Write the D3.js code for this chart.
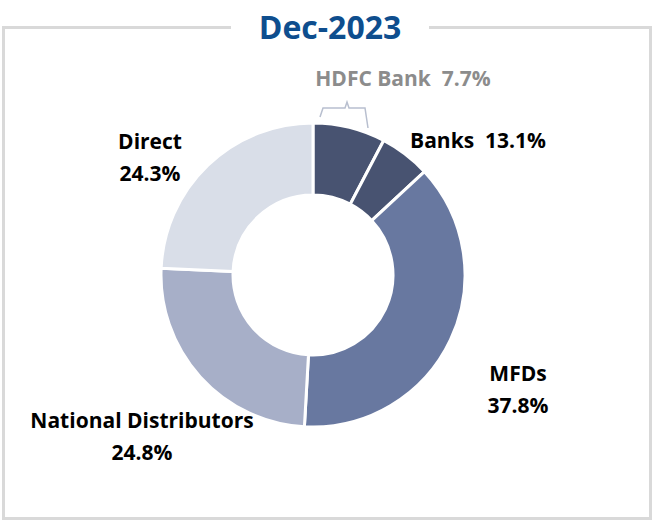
<!DOCTYPE html>
<html>
<head>
<meta charset="utf-8">
<script src="https://cdn.jsdelivr.net/npm/d3@7"></script>
<style>
  body { margin: 0; background: #fff; }
  text { font-family: "Open Sans", Lato, sans-serif; font-weight: 700; }
</style>
</head>
<body>
<div id="container"></div>
<script>
const width = 654;
const height = 521;

// data
const categories = ["HDFC Bank", "Other Banks", "MFDs", "National Distributors", "Direct"];
const shares = [7.7, 5.4, 37.8, 24.8, 24.3];
const colors = ["#485371", "#485371", "#6878a0", "#a7afc8", "#d9dee8"];
const title = "Dec-2023";

// label layout (anchor middle)
const labels = [
  { lines: ["HDFC Bank  7.7%"], x: 403, y: 86, fill: "#8c8c8c" },
  { lines: ["Banks  13.1%"], x: 478, y: 148, fill: "#000" },
  { lines: ["MFDs", "37.8%"], x: 518, y: 381, fill: "#000" },
  { lines: ["National Distributors", "24.8%"], x: 142, y: 428, fill: "#000" },
  { lines: ["Direct", "24.3%"], x: 150, y: 149, fill: "#000" }
];

const cx = 313, cy = 275;
const outerR = 152, innerR = 80;

const svg = d3
  .select("#container")
  .append("svg")
  .attr("width", width)
  .attr("height", height);

// frame with a gap for the title
svg.append("path")
  .attr("d", `M231,27.5 H3.5 V518.5 H650.5 V27.5 H429`)
  .attr("fill", "none")
  .attr("stroke", "#d9d9d9")
  .attr("stroke-width", 3);

svg.append("text")
  .attr("x", 330)
  .attr("y", 39)
  .attr("text-anchor", "middle")
  .attr("font-size", 32)
  .attr("fill", "#0e4e8e")
  .text(title);

const pie = d3.pie().sort(null).value(d => d);
const arc = d3.arc().innerRadius(innerR).outerRadius(outerR);

const g = svg.append("g").attr("transform", `translate(${cx},${cy})`);

g.selectAll("path")
  .data(pie(shares))
  .enter()
  .append("path")
  .attr("d", arc)
  .attr("fill", (d, i) => colors[i])
  .attr("stroke", "#fff")
  .attr("stroke-width", 3)
  .attr("stroke-linejoin", "round");

// bracket over the HDFC slice
svg.append("path")
  .attr("d", "M320,117 L323,108 H345 L347,102 L349,108 H365 L368,128")
  .attr("fill", "none")
  .attr("stroke", "#b8bfcf")
  .attr("stroke-width", 1.5);

const lab = svg.selectAll("text.lab")
  .data(labels)
  .enter()
  .append("text")
  .attr("class", "lab")
  .attr("text-anchor", "middle")
  .attr("font-size", 21)
  .attr("fill", d => d.fill)
  .style("white-space", "pre");

lab.selectAll("tspan")
  .data(d => d.lines.map((l, i) => ({ l, i, x: d.x, y: d.y })))
  .enter()
  .append("tspan")
  .attr("x", d => d.x)
  .attr("y", d => d.y + d.i * 32)
  .text(d => d.l);
</script>
</body>
</html>
